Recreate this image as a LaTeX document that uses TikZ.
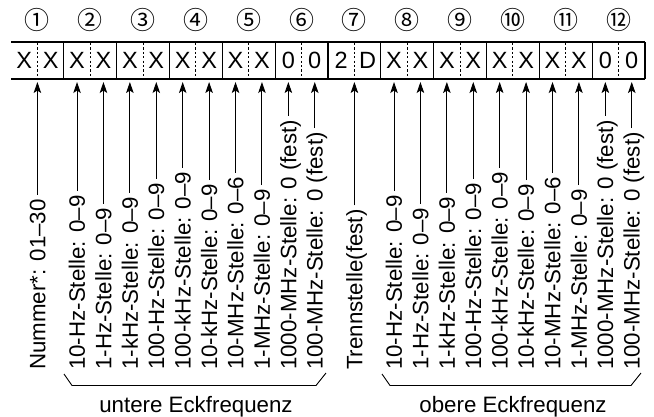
\documentclass[tikz,border=0pt]{standalone}
\usepackage{fontspec}
\setmainfont{Liberation Sans}
\newfontfamily\circfont{Noto Sans CJK JP}
\usetikzlibrary{arrows.meta}
\begin{document}
\begin{tikzpicture}[x=1pt,y=-1pt,
  frameline/.style={line width=1.1pt},
  divline/.style={line width=0.9pt, dash pattern=on 2.2pt off 2.2pt},
  digit/.style={font=\fontsize{23.5}{25}\selectfont, inner sep=0pt},
  circnum/.style={font=\circfont\fontsize{25}{27}\selectfont, inner sep=0pt},
  lbl/.style={font=\fontsize{22.3}{24}\selectfont, rotate=90, anchor=west, inner sep=0pt, text height=15.8pt, text depth=0pt},
  arr/.style={line width=0.9pt, -{Stealth[length=11pt,width=7.5pt,inset=2.5pt]}, shorten <=4pt},
  brk/.style={line width=0.9pt},
  grp/.style={font=\fontsize{22.3}{24}\selectfont, anchor=base, inner sep=0pt}
]
\useasboundingbox (0,0) rectangle (654,416);
% frame
\draw[frameline] (11,42) -- (645,42);
\draw[frameline] (11,79) -- (645,79);
\foreach \k in {1,...,12} \draw[frameline] ({11+52.83*\k},42) -- ({11+52.83*\k},79);
\foreach \k in {0,...,11} \draw[divline] ({11+52.83*\k+26.415},43) -- ({11+52.83*\k+26.415},79);
% digits
\foreach \t [count=\i] in {X,X,X,X,X,X,X,X,X,X,0,0,2,D,X,X,X,X,X,X,X,X,0,0}
  \node[digit] (d\i) at ({11+26.415*(\i-0.5)},60.5) {\t};
% circled numbers
\foreach \c [count=\p] in {①,②,③,④,⑤,⑥,⑦,⑧,⑨,⑩,⑪,⑫}
  \node[circnum] (c\p) at ({11+52.83*(\p-0.5)},20) {\c};
% single labels
\coordinate (tn) at (37.4,82);
\node[lbl] (Ln) at (37.4,370) {Nummer*: 01–30};
\draw[arr] (Ln.east) -- (tn);
\coordinate (tt) at (354.4,82);
\node[lbl] (Lt) at (354.4,370) {Trennstelle(fest)};
\draw[arr] (Lt.east) -- (tt);
% group 1
\foreach \t [count=\i from 3] in {10-Hz-Stelle: 0–9,1-Hz-Stelle: 0–9,1-kHz-Stelle: 0–9,100-Hz-Stelle: 0–9,100-kHz-Stelle: 0–9,10-kHz-Stelle: 0–9,10-MHz-Stelle: 0–6,1-MHz-Stelle: 0–9,1000-MHz-Stelle: 0 (fest),100-MHz-Stelle: 0 (fest)}
{
  \coordinate (t\i) at ({11+26.415*(\i-0.5)},82);
  \node[lbl] (L\i) at ({11+26.415*(\i-0.5)},370) {\t};
  \draw[arr] (L\i.east) -- (t\i);
}
% group 2
\foreach \t [count=\i from 15] in {10-Hz-Stelle: 0–9,1-Hz-Stelle: 0–9,1-kHz-Stelle: 0–9,100-Hz-Stelle: 0–9,100-kHz-Stelle: 0–9,10-kHz-Stelle: 0–9,10-MHz-Stelle: 0–6,1-MHz-Stelle: 0–9,1000-MHz-Stelle: 0 (fest),100-MHz-Stelle: 0 (fest)}
{
  \coordinate (t\i) at ({11+26.415*(\i-0.5)},82);
  \node[lbl] (L\i) at ({11+26.415*(\i-0.5)},370) {\t};
  \draw[arr] (L\i.east) -- (t\i);
}
% brackets
\draw[brk] (64,374) -- (72,385.5) -- (316,385.5) -- (326,373);
\draw[brk] (382,374) -- (390,385.5) -- (631,385.5) -- (641,373);
\node[grp] (g1) at (196,412) {untere Eckfrequenz};
\node[grp] (g2) at (513,412) {obere Eckfrequenz};
\end{tikzpicture}
\end{document}
